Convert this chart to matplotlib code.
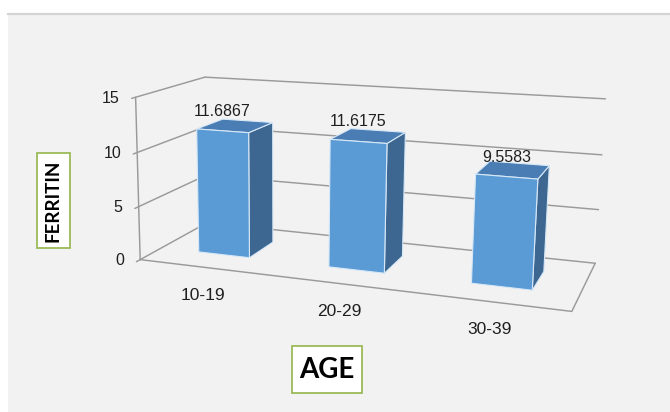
import numpy as np
import matplotlib
matplotlib.use("Agg")
import matplotlib.pyplot as plt
from matplotlib.patches import Polygon, Rectangle

# Mean ferritin per age group
ages = ["10-19", "20-29", "30-39"]
ferritin = [11.6867, 11.6175, 9.5583]
value_ticks = [0, 5, 10, 15]
value_labels = ["11.6867", "11.6175", "9.5583"]

W, H = 670, 412

# Box corners in chart space (category, value, depth) and where they sit on the page (px).
# Used to fit a perspective camera so the whole 3-D frame is drawn from data.
box_world = np.array([
    [0, 0, 0], [0, 5, 0], [0, 10, 0], [0, 15, 0],
    [0, 15, 1], [0, 10, 1], [0, 5, 1], [0, 0, 1],
    [3, 15, 1], [3, 10, 1], [3, 5, 1], [3, 0, 1],
    [3, 0, 0],
], dtype=float)
box_page = np.array([
    [142, 259], [139, 206], [136.5, 152.5], [134, 98],
    [207, 75], [206, 128], [206, 177], [205, 222],
    [605, 99], [602, 155], [598, 209], [596, 263],
    [572, 312],
], dtype=float)

SCALE = np.array([1, 1 / 5, 1])
CENTER = np.array([335, 206])


def fit_camera(world, page):
    w = world * SCALE
    p = (page - CENTER) / 300
    rows = []
    for (X, Y, Z), (u, v) in zip(w, p):
        rows.append([X, Y, Z, 1, 0, 0, 0, 0, -u * X, -u * Y, -u * Z, -u])
        rows.append([0, 0, 0, 0, X, Y, Z, 1, -v * X, -v * Y, -v * Z, -v])
    _, _, vt = np.linalg.svd(np.array(rows))
    return vt[-1].reshape(3, 4)


cam = fit_camera(box_world, box_page)


def project(pts):
    pts = np.atleast_2d(np.asarray(pts, dtype=float)) * SCALE
    h = np.c_[pts, np.ones(len(pts))] @ cam.T
    return h[:, :2] / h[:, 2:] * 300 + CENTER


fig = plt.figure(figsize=(W / 100, H / 100), dpi=100)
fig.patch.set_facecolor("white")
ax = fig.add_axes([0, 0, 1, 1])
ax.set_xlim(0, W)
ax.set_ylim(H, 0)
ax.axis("off")

# chart area
ax.add_patch(Rectangle((8, 13), W - 8, H - 13, facecolor="#f2f2f2", edgecolor="none", zorder=0))
ax.plot([8, W], [13.5, 13.5], color="#d4d4d4", lw=1.6, zorder=1)

grid_kw = dict(color="#9a9a9a", lw=1.05, solid_capstyle="round", zorder=2)
n_cat = len(ages)

# side wall and back wall gridlines
for v in value_ticks:
    side = project([[0, v, -0.05], [0, v, 1]])
    ax.plot(side[:, 0], side[:, 1], **grid_kw)
    back = project([[0, v, 1], [n_cat, v, 1]])
    ax.plot(back[:, 0], back[:, 1], **grid_kw)

# value axis and floor edges
axis_line = project([[0, 0, 0], [0, value_ticks[-1], 0]])
ax.plot(axis_line[:, 0], axis_line[:, 1], **grid_kw)
floor = project([[0, 0, 0], [n_cat, 0, 0], [n_cat, 0, 1]])
ax.plot(floor[:, 0], floor[:, 1], **grid_kw)

text_c = "#1f1f1f"
for v in value_ticks:
    x, y = project([0, v, 0])[0]
    ax.text(x - 16, y + 1, str(v), ha="right", va="center",
            fontsize=11.5, family="Liberation Sans", color=text_c)

# bars
front_c, top_c, side_c = "#5b9bd5", "#4a7db3", "#3d6791"
edge_c = "#d6e8f7"
x_pad, z0, z1 = 0.3, 0.3, 0.7
for i, h in enumerate(ferritin):
    xa, xb = i + x_pad, i + 1 - x_pad
    faces = [
        ([[xb, 0, z0], [xb, 0, z1], [xb, h, z1], [xb, h, z0]], side_c),
        ([[xa, h, z0], [xb, h, z0], [xb, h, z1], [xa, h, z1]], top_c),
        ([[xa, 0, z0], [xb, 0, z0], [xb, h, z0], [xa, h, z0]], front_c),
    ]
    for pts, c in faces:
        ax.add_patch(Polygon(project(pts), closed=True, facecolor=c,
                             edgecolor=edge_c, lw=0.8, joinstyle="round", zorder=3))
    tx, ty = project([i + 0.5, h, z0])[0]
    ax.text(tx, ty - 15, value_labels[i], ha="center", va="baseline",
            fontsize=11.5, family="Liberation Sans", color=text_c, zorder=4)

# category labels
for i, lab in enumerate(ages):
    cx, cy = project([i + 0.5, 0, 0])[0]
    ax.text(cx - 1, cy + 28, lab, ha="center", va="center",
            fontsize=12.5, family="Liberation Sans", color=text_c)

# axis titles in green-bordered boxes
box_kw = dict(facecolor="white", edgecolor="#9bbb59", lw=1.3, zorder=4)
ax.add_patch(Rectangle((36.5, 153), 33, 95, **box_kw))
ax.text(53, 200.5, "FERRITIN", rotation=90, ha="center", va="center",
        fontsize=13.5, fontweight="bold", family="Lato", color="black", zorder=5)
ax.add_patch(Rectangle((291.5, 345.5), 70, 47, **box_kw))
ax.text(327, 370, "AGE", ha="center", va="center",
        fontsize=20, fontweight="bold", family="Lato", color="black", zorder=5)

fig.savefig("out.png", dpi=100, facecolor=fig.get_facecolor())
